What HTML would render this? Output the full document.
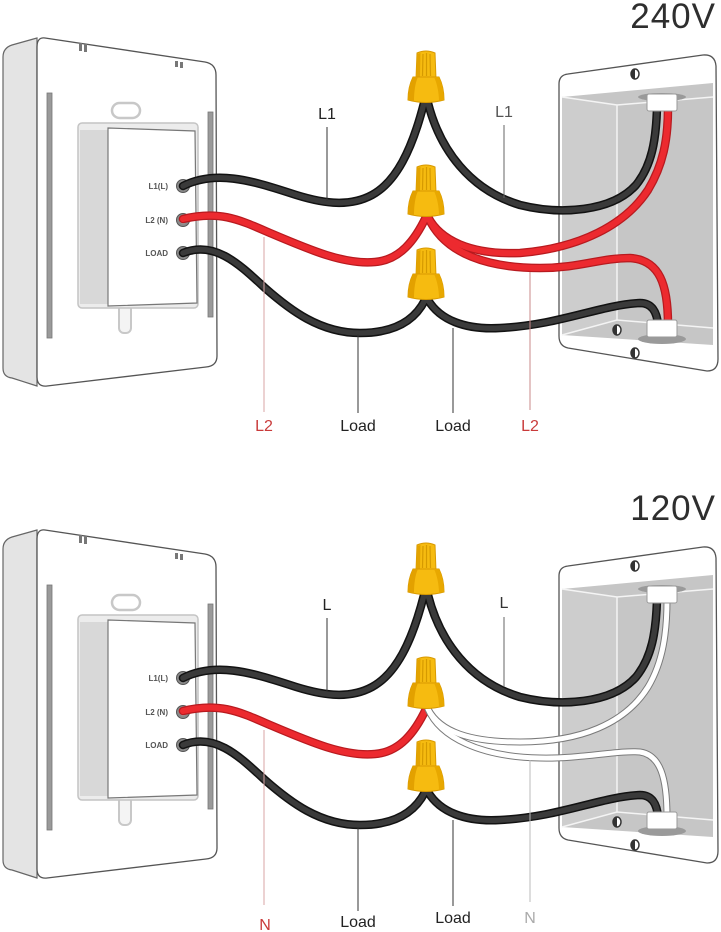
<!DOCTYPE html>
<html><head><meta charset="utf-8"><style>
html,body{margin:0;padding:0;background:#fff;}
svg{display:block;}
text{font-family:"Liberation Sans",sans-serif;}
</style></head><body>
<svg width="721" height="932" viewBox="0 0 721 932" xmlns="http://www.w3.org/2000/svg">
<defs>
<g id="nut">
 <path d="M-10,-24 L-9,-50 Q0,-54 9,-50 L10,-24 Z" fill="#f6bb10" stroke="#d99a00" stroke-width="1"/>
 <path d="M-9,-49 L-10,-25 L-6,-25 L-5.5,-50 Z" fill="#e3a300"/>
 <path d="M-3,-49 L-3.5,-27 M0.5,-50 L0.5,-27 M4,-49 L4.5,-27" stroke="#d69a00" stroke-width="1.2" fill="none"/>
 <path d="M-13,-26 L13,-26 C16,-20 18,-12 18,-3 Q0,2 -18,-3 C-18,-12 -16,-20 -13,-26 Z" fill="#f6bb10" stroke="#d99a00" stroke-width="1"/>
 <path d="M-13,-26 C-16,-20 -18,-12 -18,-3 L-12,-2 C-12,-10 -11,-20 -8,-26 Z" fill="#e3a100"/>
 <path d="M13,-26 C16,-20 18,-12 18,-3 L13,-2 C13,-10 11,-20 8,-26 Z" fill="#e8a800"/>
</g>
<g id="device">
 <path d="M37,38 L12,45 Q3,48 3,57 L3,368 Q3,377 12,378 L37,386 Z" fill="#e4e4e4" stroke="#666" stroke-width="1.2"/>
 <path d="M45,38 L205,62 Q216,64 216,75 L217,356 Q217,366 206,367 L47,386 Q37,387 37,377 L37,47 Q37,37 45,38 Z" fill="#fff" stroke="#555" stroke-width="1.3"/>
 <rect x="47" y="93" width="5" height="245" fill="#9a9a9a" stroke="#777" stroke-width="0.8"/>
 <rect x="208" y="112" width="5" height="205" fill="#9a9a9a" stroke="#777" stroke-width="0.8"/>
 <rect x="79" y="43" width="3" height="8" fill="#777"/><rect x="84" y="44" width="3" height="8" fill="#777"/>
 <rect x="175" y="61" width="3" height="6" fill="#777"/><rect x="180" y="62" width="3" height="6" fill="#777"/>
 <rect x="112" y="103" width="28" height="15" rx="7.5" fill="#fff" stroke="#c8c8c8" stroke-width="2.5"/>
 <rect x="119" y="298" width="12" height="35" rx="5" fill="#f4f4f4" stroke="#c8c8c8" stroke-width="2"/>
 <rect x="78" y="123" width="120" height="185" rx="4" fill="#ececec" stroke="#c4c4c4" stroke-width="1.5"/>
 <rect x="80" y="130" width="28" height="174" fill="#d8d8d8"/>
 <path d="M108,128 L195,131 L197,303 L108,306 Z" fill="#fff" stroke="#777" stroke-width="1.2"/>
 <circle cx="183" cy="186" r="6.5" fill="#8a8a8a" stroke="#555" stroke-width="1"/>
 <circle cx="183" cy="220" r="6.5" fill="#8a8a8a" stroke="#555" stroke-width="1"/>
 <circle cx="183" cy="253" r="6.5" fill="#8a8a8a" stroke="#555" stroke-width="1"/>
 <circle cx="183" cy="186" r="3.5" fill="#ddd"/>
 <circle cx="183" cy="220" r="3.5" fill="#ddd"/>
 <circle cx="183" cy="253" r="3.5" fill="#ddd"/>
</g>
<g id="box">
 <path d="M568,74 L703,55 Q715,54 716,66 L718,359 Q718,371 707,371 L568,348 Q559,346 559,336 L559,84 Q559,75 568,74 Z" fill="#fff" stroke="#555" stroke-width="1.3"/>
 <path d="M562,97 L713,83 L713,345 L562,335 Z" fill="#c6c6c6"/>
 <path d="M562,97 L617,105 L617,320 L562,335 Z" fill="#cdcdcd"/>
 <path d="M562,97 L617,105 L713,97 M617,105 L617,320 M562,335 L617,320 L713,328" stroke="#f4f4f4" stroke-width="1.5" fill="none"/>
 <ellipse cx="635" cy="74" rx="4" ry="5" fill="#fff" stroke="#333" stroke-width="1.5"/>
 <path d="M635,69 A4,5 0 0 0 635,79 Z" fill="#333"/>
 <ellipse cx="617" cy="330" rx="4" ry="5" fill="#fff" stroke="#333" stroke-width="1.5"/>
 <path d="M617,325 A4,5 0 0 0 617,335 Z" fill="#333"/>
 <ellipse cx="635" cy="353" rx="4" ry="5" fill="#fff" stroke="#333" stroke-width="1.5"/>
 <path d="M635,348 A4,5 0 0 0 635,358 Z" fill="#333"/>
 <ellipse cx="662" cy="97" rx="24" ry="4" fill="#9a9a9a"/>
 <ellipse cx="662" cy="339" rx="24" ry="5" fill="#9a9a9a"/>
</g>
<g id="clamps">
 <rect x="647" y="94" width="30" height="17" rx="2" fill="#fff" stroke="#999" stroke-width="1"/>
 <rect x="647" y="320" width="30" height="17" rx="2" fill="#fff" stroke="#999" stroke-width="1"/>
</g>
</defs>

<!-- ============ TOP 240V ============ -->
<text x="716" y="28" text-anchor="end" font-size="35" fill="#2e2e2e" letter-spacing="1">240V</text>
<use href="#device"/>
<use href="#box"/>
<g fill="none" stroke-linecap="round">
 <g stroke="#121212" stroke-width="8.5">
  <path d="M183,186 C215,170 250,180 290,193 C320,203 348,208 372,195 C396,182 412,150 424,103"/>
  <path d="M428,103 C440,150 470,190 520,205 C560,215 612,212 636,185 C652,165 656,140 657,108"/>
  <path d="M183,253 C215,240 240,265 265,288 C290,310 320,333 360,333 C395,333 415,320 425,300"/>
  <path d="M428,300 C440,320 465,330 500,328 C560,325 600,305 640,303 C652,303 657,312 658,325"/>
 </g>
 <g stroke="#3a3a3a" stroke-width="5.5">
  <path d="M183,186 C215,170 250,180 290,193 C320,203 348,208 372,195 C396,182 412,150 424,103"/>
  <path d="M428,103 C440,150 470,190 520,205 C560,215 612,212 636,185 C652,165 656,140 657,108"/>
  <path d="M183,253 C215,240 240,265 265,288 C290,310 320,333 360,333 C395,333 415,320 425,300"/>
  <path d="M428,300 C440,320 465,330 500,328 C560,325 600,305 640,303 C652,303 657,312 658,325"/>
 </g>
 <g stroke="#b81a1f" stroke-width="8.5">
  <path d="M183,219 C220,210 240,220 270,233 C310,250 345,265 375,262 C400,260 415,240 426,217"/>
  <path d="M428,217 C440,240 470,255 520,253 C580,248 625,225 648,190 C663,165 668,140 668,108"/>
  <path d="M428,217 C445,255 490,268 540,268 C580,268 600,258 630,258 C660,260 668,285 668,325"/>
 </g>
 <g stroke="#ec2a2f" stroke-width="6">
  <path d="M183,219 C220,210 240,220 270,233 C310,250 345,265 375,262 C400,260 415,240 426,217"/>
  <path d="M428,217 C440,240 470,255 520,253 C580,248 625,225 648,190 C663,165 668,140 668,108"/>
  <path d="M428,217 C445,255 490,268 540,268 C580,268 600,258 630,258 C660,260 668,285 668,325"/>
 </g>
</g>
<use href="#clamps"/>
<use href="#nut" x="426" y="103"/>
<use href="#nut" x="426" y="217"/>
<use href="#nut" x="426" y="300"/>
<g font-size="8" font-weight="bold" fill="#555" text-anchor="end">
 <text x="168" y="189">L1(L)</text>
 <text x="168" y="223">L2 (N)</text>
 <text x="168" y="256">LOAD</text>
</g>
<g stroke-width="1">
 <line x1="327" y1="127" x2="327" y2="201" stroke="#333"/>
 <line x1="504" y1="125" x2="504" y2="198" stroke="#666"/>
 <line x1="264" y1="237" x2="264" y2="412" stroke="#d8a4a4"/>
 <line x1="358" y1="334" x2="358" y2="413" stroke="#333"/>
 <line x1="453" y1="328" x2="453" y2="413" stroke="#333"/>
 <line x1="530" y1="272" x2="530" y2="410" stroke="#c98888"/>
</g>
<g font-size="16" text-anchor="middle">
 <text x="327" y="119" fill="#222">L1</text>
 <text x="504" y="117" fill="#555">L1</text>
 <text x="264" y="431" fill="#c93a3a">L2</text>
 <text x="358" y="431" fill="#222">Load</text>
 <text x="453" y="431" fill="#222">Load</text>
 <text x="530" y="431" fill="#c93a3a">L2</text>
</g>

<!-- ============ BOTTOM 120V ============ -->
<text x="716" y="520" text-anchor="end" font-size="35" fill="#2e2e2e" letter-spacing="1">120V</text>
<g transform="translate(0,492)">
<use href="#device"/>
<use href="#box"/>
<g fill="none" stroke-linecap="round">
 <g stroke="#121212" stroke-width="8.5">
  <path d="M183,186 C215,170 250,180 290,193 C320,203 348,208 372,195 C396,182 412,150 424,103"/>
  <path d="M428,103 C440,150 470,190 520,205 C560,215 612,212 636,185 C652,165 656,140 657,108"/>
  <path d="M183,253 C215,240 240,265 265,288 C290,310 320,333 360,333 C395,333 415,320 425,300"/>
  <path d="M428,300 C440,320 465,330 500,328 C560,325 600,305 640,303 C652,303 657,312 658,325"/>
 </g>
 <g stroke="#3a3a3a" stroke-width="5.5">
  <path d="M183,186 C215,170 250,180 290,193 C320,203 348,208 372,195 C396,182 412,150 424,103"/>
  <path d="M428,103 C440,150 470,190 520,205 C560,215 612,212 636,185 C652,165 656,140 657,108"/>
  <path d="M183,253 C215,240 240,265 265,288 C290,310 320,333 360,333 C395,333 415,320 425,300"/>
  <path d="M428,300 C440,320 465,330 500,328 C560,325 600,305 640,303 C652,303 657,312 658,325"/>
 </g>
 <g stroke="#b81a1f" stroke-width="8.5">
  <path d="M183,219 C220,210 240,220 270,233 C310,250 345,265 375,262 C400,260 415,240 426,217"/>
 </g>
 <g stroke="#ec2a2f" stroke-width="6">
  <path d="M183,219 C220,210 240,220 270,233 C310,250 345,265 375,262 C400,260 415,240 426,217"/>
 </g>
 <g stroke="#7a7a7a" stroke-width="7">
  <path d="M428,217 C440,240 470,250 520,250 C580,250 625,232 648,195 C663,170 667,140 667,108"/>
  <path d="M428,217 C440,245 480,265 540,266 C580,267 620,258 640,260 C660,263 667,285 667,325"/>
 </g>
 <g stroke="#fff" stroke-width="5">
  <path d="M428,217 C440,240 470,250 520,250 C580,250 625,232 648,195 C663,170 667,140 667,108"/>
  <path d="M428,217 C440,245 480,265 540,266 C580,267 620,258 640,260 C660,263 667,285 667,325"/>
 </g>
</g>
<use href="#clamps"/>
<use href="#nut" x="426" y="103"/>
<use href="#nut" x="426" y="217"/>
<use href="#nut" x="426" y="300"/>
<g font-size="8" font-weight="bold" fill="#555" text-anchor="end">
 <text x="168" y="189">L1(L)</text>
 <text x="168" y="223">L2 (N)</text>
 <text x="168" y="256">LOAD</text>
</g>
</g>
<g stroke-width="1">
 <line x1="327" y1="618" x2="327" y2="691" stroke="#333"/>
 <line x1="504" y1="617" x2="504" y2="687" stroke="#666"/>
 <line x1="264" y1="730" x2="264" y2="905" stroke="#d8a4a4"/>
 <line x1="358" y1="828" x2="358" y2="911" stroke="#333"/>
 <line x1="453" y1="820" x2="453" y2="906" stroke="#333"/>
 <line x1="530" y1="760" x2="530" y2="902" stroke="#bbb"/>
</g>
<g font-size="16" text-anchor="middle">
 <text x="327" y="610" fill="#222">L</text>
 <text x="504" y="608" fill="#333">L</text>
 <text x="265" y="930" fill="#c93a3a">N</text>
 <text x="358" y="927" fill="#222">Load</text>
 <text x="453" y="923" fill="#222">Load</text>
 <text x="530" y="923" fill="#aaa">N</text>
</g>
</svg>
</body></html>
